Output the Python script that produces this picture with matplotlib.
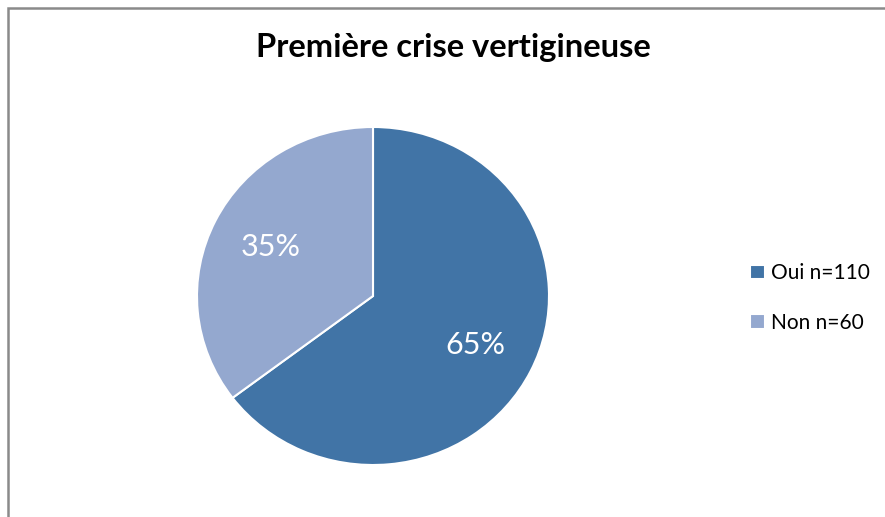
import matplotlib.pyplot as plt
from matplotlib.patches import Rectangle

labels = ['Oui n=110', 'Non n=60']
counts = [110, 60]
colors = ['#4174A6', '#94A8CF']
title = 'Première crise vertigineuse'

W, H = 885, 517
plt.rcParams['font.family'] = ['Lato', 'DejaVu Sans']

fig = plt.figure(figsize=(W / 100, H / 100), dpi=100)

# chart frame (clipped on the right and bottom like the screenshot)
fig.patches.append(Rectangle((8 / W, -0.1), 1.2, (H - 8) / H + 0.1,
                             transform=fig.transFigure, fill=False,
                             edgecolor='#8a8a8a', linewidth=1.8))

# pie axes in pixel placement; the original is slightly wider than tall
cx, cy, rx, ry = 373, 296, 176, 169
ax = fig.add_axes([(cx - rx) / W, (H - cy - ry) / H, 2 * rx / W, 2 * ry / H])
wedges, texts, autotexts = ax.pie(
    counts, colors=colors, startangle=90, counterclock=False,
    autopct='%1.0f%%', pctdistance=0.65,
    wedgeprops=dict(edgecolor='white', linewidth=1.5),
    textprops=dict(color='white', fontsize=22))
ax.set_xlim(-1, 1)
ax.set_ylim(-1, 1)
ax.set_aspect('auto')

fig.text(453 / W, 1 - 48 / H, title, ha='center', va='center',
         fontsize=23.5, fontweight='bold', color='black')

fig.legend(wedges, labels, loc='upper left',
           bbox_to_anchor=(740 / W, 1 - 253 / H), frameon=False,
           fontsize=15, handlelength=0.7, handleheight=0.7,
           handletextpad=0.3, labelspacing=1.4, borderpad=0)

fig.savefig('out.png', dpi=100)
